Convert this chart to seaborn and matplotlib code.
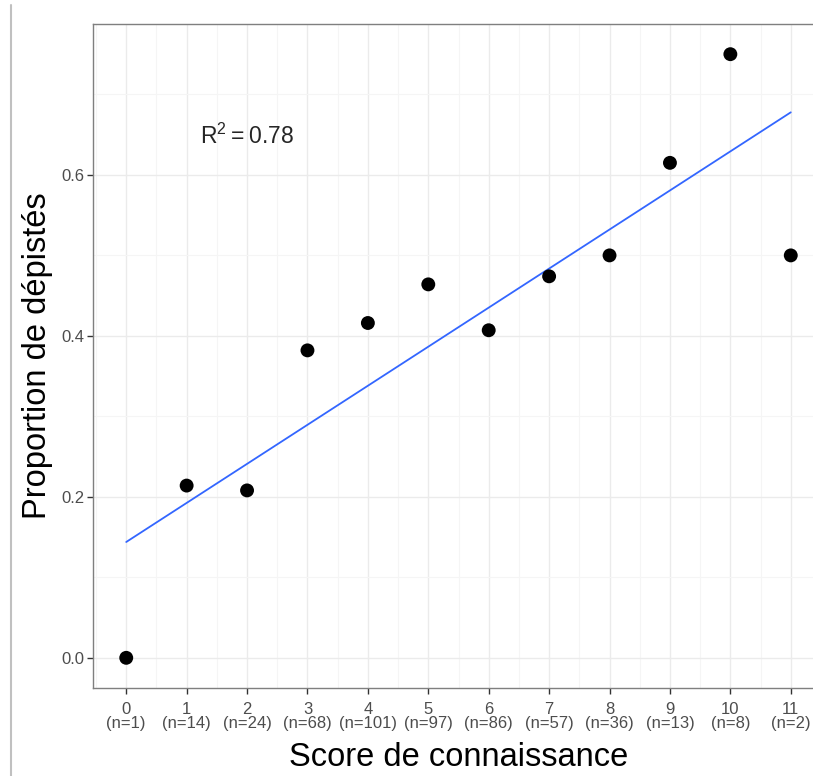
import numpy as np
import pandas as pd
import matplotlib
matplotlib.use('Agg')
import matplotlib.pyplot as plt
import matplotlib.ticker as mticker
from matplotlib.lines import Line2D
import seaborn as sns

# data
scores = [0, 1, 2, 3, 4, 5, 6, 7, 8, 9, 10, 11]
counts = [1, 14, 24, 68, 101, 97, 86, 57, 36, 13, 8, 2]
proportions = [0.0, 0.214, 0.208, 0.382, 0.416, 0.464, 0.407, 0.474, 0.5, 0.615, 0.75, 0.5]
tick_labels = [f"{s}\n(n={n})" for s, n in zip(scores, counts)]
r2_text = r"$\mathregular{R^2 = 0.78}$"

df = pd.DataFrame({'score': scores, 'prop': proportions})

sns.set_theme(style="white")
plt.rcParams['font.family'] = ['Liberation Sans', 'DejaVu Sans']
plt.rcParams['mathtext.fontset'] = 'custom'
plt.rcParams['mathtext.rm'] = 'Liberation Sans'

fig = plt.figure(figsize=(8.13, 7.76), dpi=100)
W, H = 813, 776
left, right, top, bottom = 93, 824, 24, 688
ax = fig.add_axes([left / W, 1 - bottom / H, (right - left) / W, (bottom - top) / H])

sns.regplot(data=df, x='score', y='prop', ci=None, ax=ax,
            scatter_kws=dict(s=100, color='black', alpha=1, edgecolor='none', zorder=3),
            line_kws=dict(color='#3366FF', linewidth=1.3, zorder=2))

ax.set_xlim(-0.55, 11.55)
ax.set_ylim(-0.0375, 0.7875)
ax.set_xticks(scores)
ax.set_xticklabels(tick_labels, fontsize=12, color='#4D4D4D', linespacing=0.95)
ax.set_yticks([0.0, 0.2, 0.4, 0.6])
ax.yaxis.set_major_formatter(mticker.FormatStrFormatter('%.1f'))
ax.tick_params(axis='y', labelsize=12, colors='#4D4D4D')
ax.xaxis.set_minor_locator(mticker.MultipleLocator(0.5))
ax.yaxis.set_minor_locator(mticker.MultipleLocator(0.1))
ax.grid(which='major', color='#EBEBEB', linewidth=1.0)
ax.grid(which='minor', color='#F5F5F5', linewidth=0.8)
ax.set_axisbelow(True)
ax.tick_params(which='major', direction='out', length=4, width=1, color='#333333',
               bottom=True, left=True)
ax.tick_params(axis='x', pad=6)
ax.tick_params(axis='y', pad=2)
ax.tick_params(which='minor', length=0)
for sp in ax.spines.values():
    sp.set_color('#7F7F7F')
    sp.set_linewidth(1.0)

ax.set_xlabel('Score de connaissance', fontsize=23.5, labelpad=8, color='black')
ax.set_ylabel('Proportion de dépistés', fontsize=23.5, labelpad=6, color='black')

ax.text(2, 0.648, r2_text, fontsize=16.5, ha='center', va='center')

# gray frame line on the far left of the screenshot
fig.add_artist(Line2D([11 / W, 11 / W], [0, 1 - 5 / H], color='#C0C0C0', linewidth=1.5))

fig.savefig('out.png', dpi=100)
